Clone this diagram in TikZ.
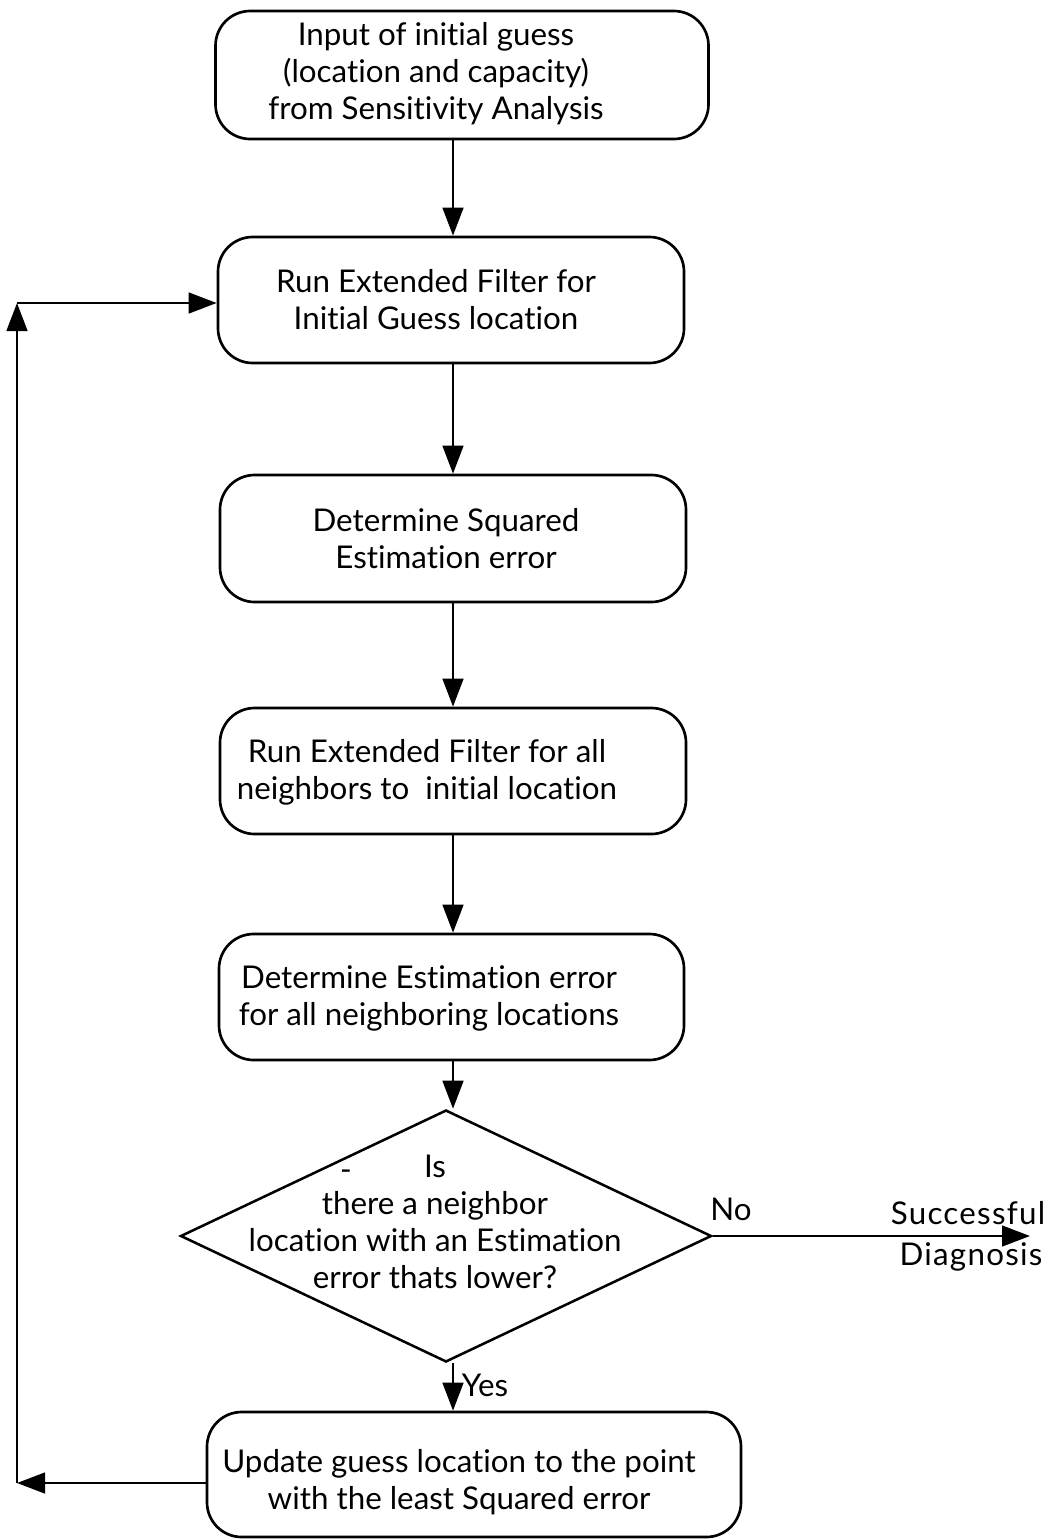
\documentclass[tikz,border=0pt]{standalone}
\usepackage{fontspec}
\setmainfont{Lato}[Ligatures=NoCommon]
\newfontfamily\spacedfont{Lato}[LetterSpace=4,Ligatures=NoCommon]
\usetikzlibrary{arrows.meta,shapes.geometric}

\begin{document}
\begin{tikzpicture}[x=0.75pt,y=-0.75pt,
  box/.style={draw, line width=2pt, rounded corners=26pt, inner sep=0pt},
  decision/.style={draw, diamond, line width=1.9pt, inner sep=0pt},
  txt/.style={align=center, inner sep=0pt, font=\fontsize{23.5}{27.75}\selectfont},
  lbl/.style={inner sep=0pt, font=\fontsize{23.5}{27.75}\selectfont},
  flow/.style={line width=1.9pt, -{Triangle[length=21pt,width=15.5pt]}}]

\useasboundingbox (0,0) rectangle (1057,1539);

% process boxes
\node[box, minimum width=369.75pt, minimum height=96pt]    (b1) at (462,75) {};
\node[box, minimum width=349.5pt,  minimum height=94.5pt]  (b2) at (451,300) {};
\node[box, minimum width=349.5pt,  minimum height=95.25pt] (b3) at (453,538.5) {};
\node[box, minimum width=349.5pt,  minimum height=94.5pt]  (b4) at (453,771) {};
\node[box, minimum width=348.75pt, minimum height=94.5pt]  (b5) at (451.5,997) {};
\node[decision, minimum width=398.25pt, minimum height=189pt] (d) at (446,1236) {};
\node[box, minimum width=400.5pt,  minimum height=93.75pt] (b6) at (474,1474.5) {};

% box texts
\node[txt] (t1) at (436,74) {Input of initial guess\\(location and capacity)\\from Sensitivity Analysis};
\node[txt] (t2) at (436,300) {Run Extended Filter for\\Initial Guess location};
\node[txt] (t3) at (446,539) {Determine Squared\\Estimation error};
\node[txt] (t4) at (427,772) {Run Extended Filter for all\\neighbors to\ \ initial location};
\node[txt] (t5) at (429,998) {Determine Estimation error\\for all neighboring locations};
\node[txt] (t6) at (435,1222) {Is\\there a neighbor\\location with an Estimation\\error thats lower?};
\node[lbl] (dash) at (346,1175) {-};
\node[txt] (t7) at (459,1482) {Update guess location to the point\\with the least Squared error};

% labels
\node[lbl] (no)  at (731,1209) {No};
\node[lbl] (yes) at (485,1385) {Yes};
\node[inner sep=0pt, font=\fontsize{23.5}{27.75}\spacedfont] (succ) at (968,1213) {Successful};
\node[inner sep=0pt, font=\fontsize{23.5}{27.75}\spacedfont] (diag) at (971,1257) {Diagnosis};

% main column
\coordinate (col) at (453,0);
\draw[flow] (b1.south -| col) -- (b2.north -| col);
\draw[flow] (b2.south -| col) -- (b3.north -| col);
\draw[flow] (b3.south -| col) -- (b4.north -| col);
\draw[flow] (b4.south -| col) -- (b5.north -| col);
\draw[flow] (b5.south -| col) -- (d.north -| col);
\draw[flow] (d.south -| col) -- (b6.north -| col);

% exit branch
\coordinate (exit) at (1030,1236);
\draw[flow] (d.east) -- (exit);

% feedback loop
\coordinate (lb) at (17,1483);
\coordinate (lt) at (17,303);
\draw[flow] (b6.west |- lb) -- (lb);
\draw[flow] (lb) -- (lt);
\draw[flow] (lt) -- (b2.west |- lt);
\end{tikzpicture}
\end{document}
